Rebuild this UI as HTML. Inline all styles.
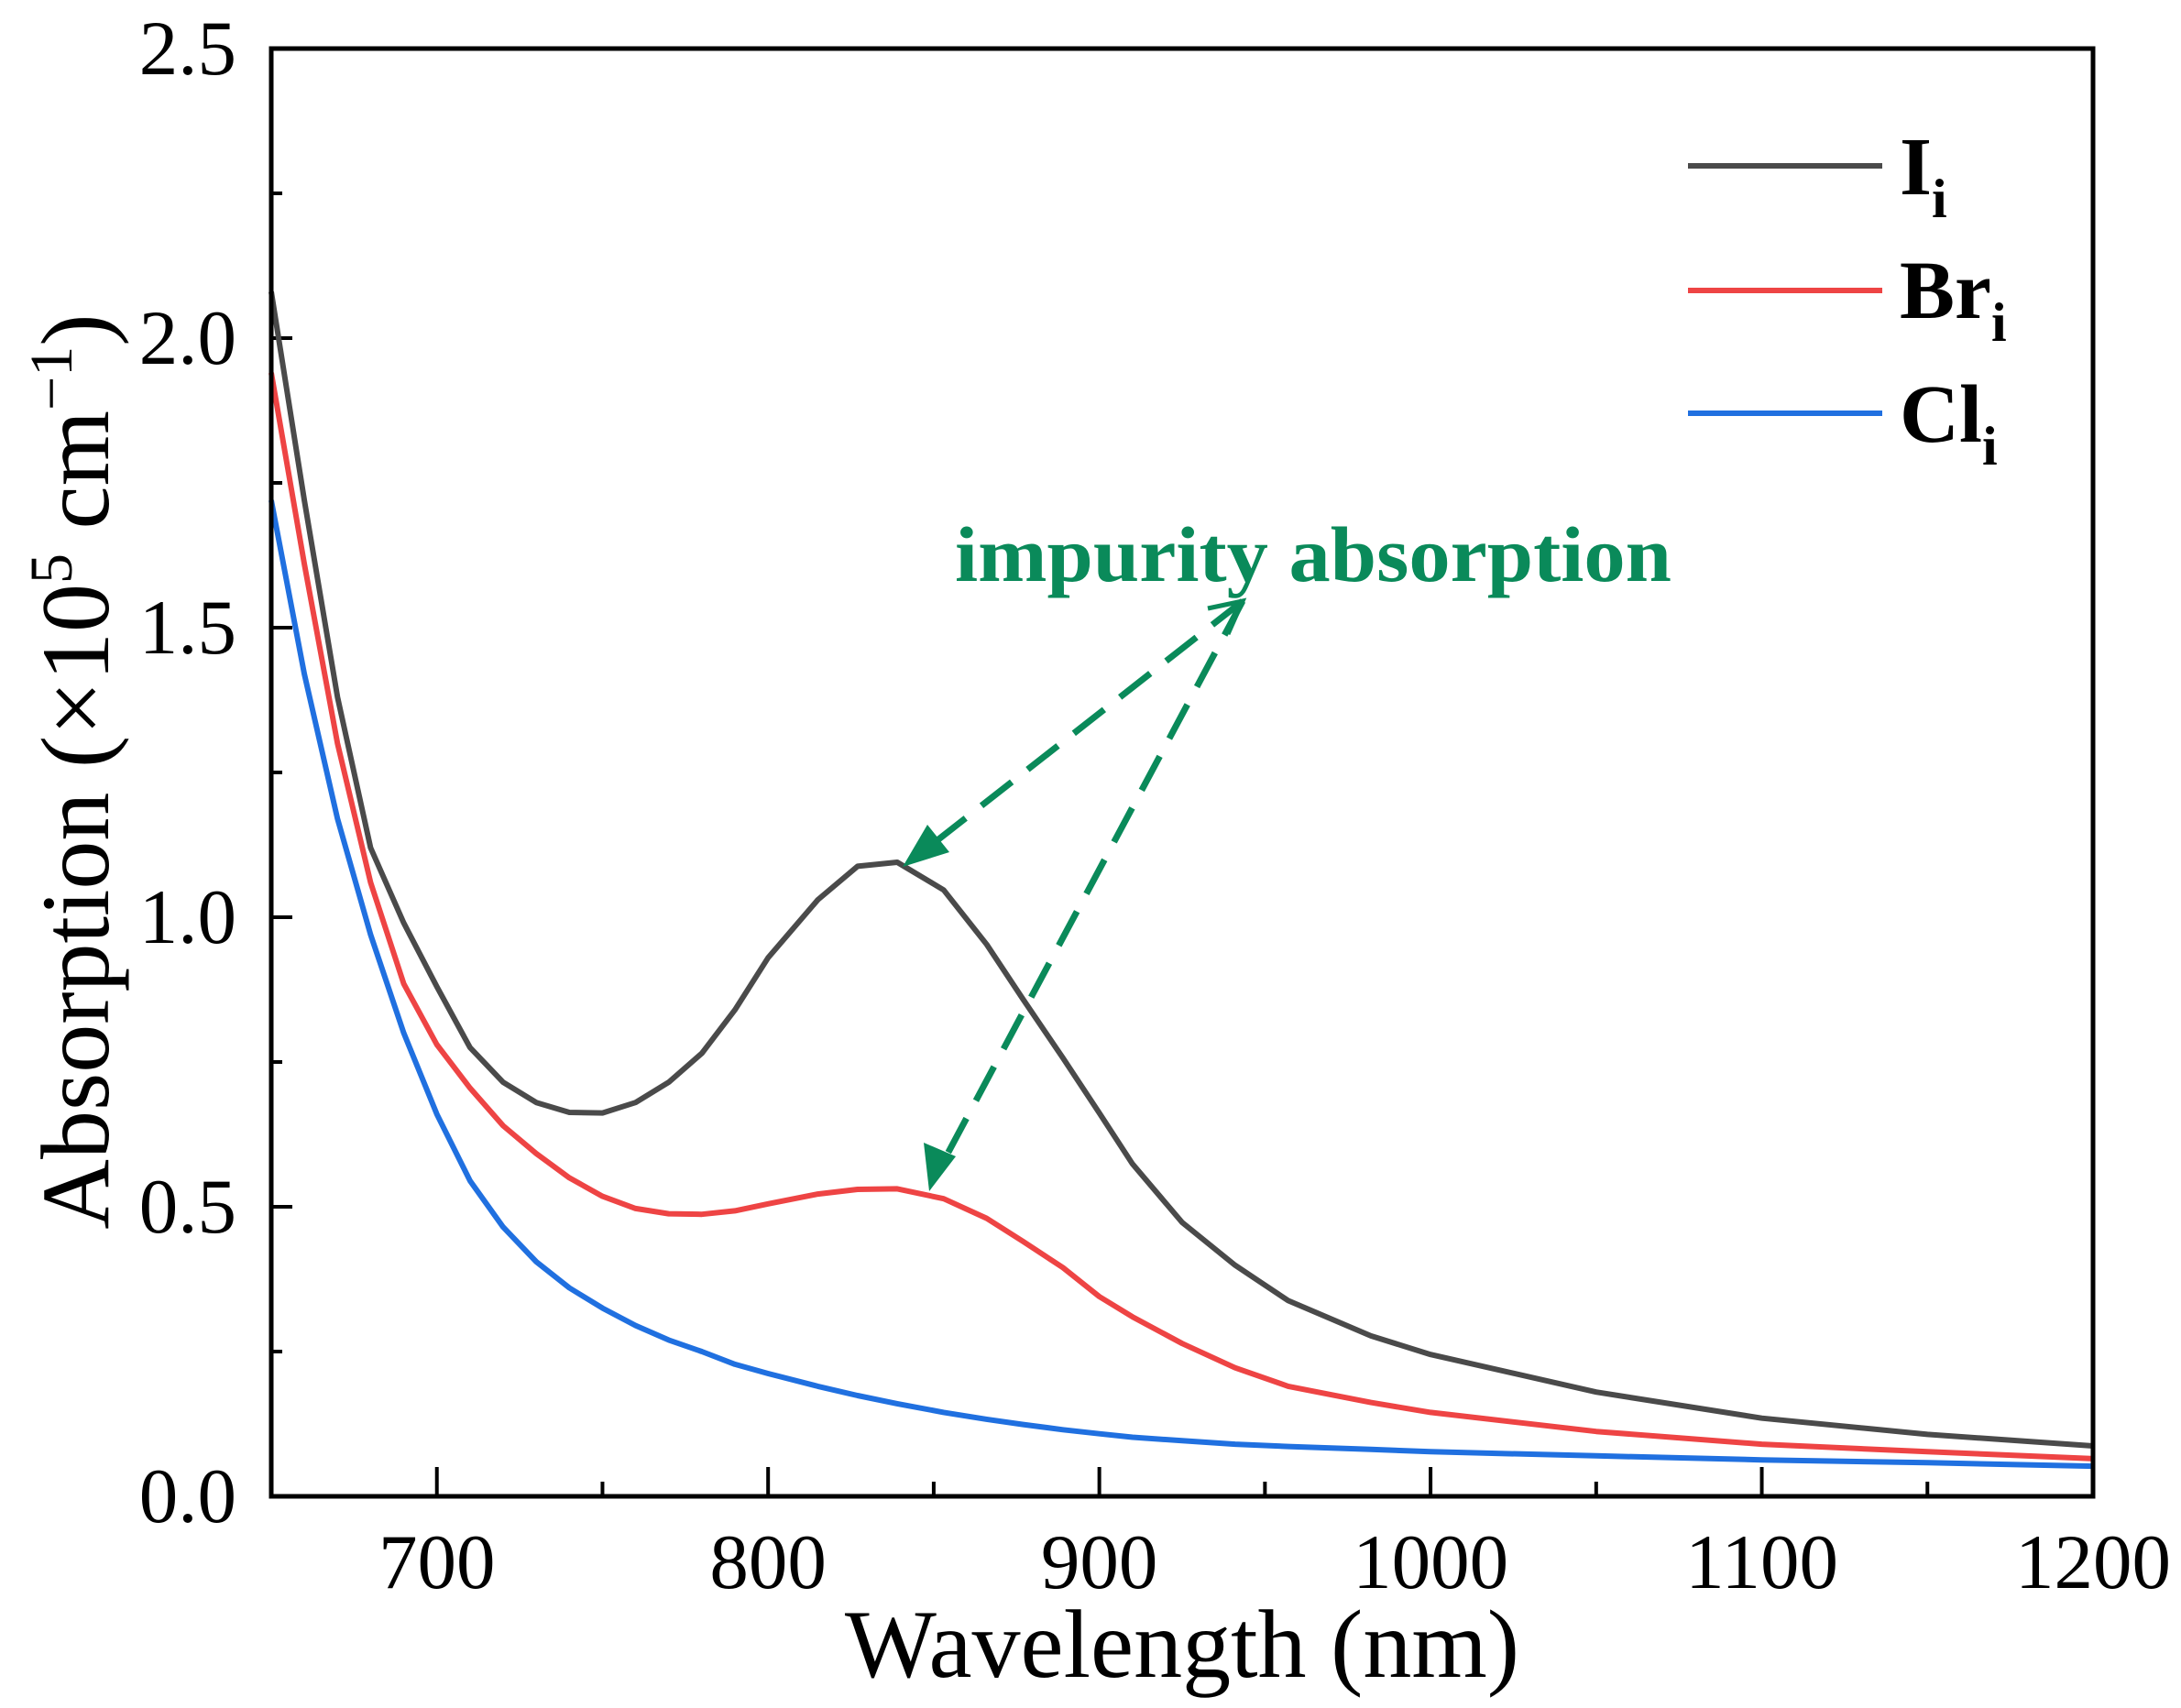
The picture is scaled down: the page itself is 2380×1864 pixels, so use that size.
<!DOCTYPE html>
<html><head><meta charset="utf-8"><style>
html,body{margin:0;padding:0;background:#fff;}
svg{display:block;font-family:"Liberation Serif",serif;}
</style></head><body>
<svg id="chart" width="2380" height="1864" viewBox="0 0 2380 1864" xmlns="http://www.w3.org/2000/svg">
<g id="axes"></g>
<g id="series"></g>
<rect x="296" y="53" width="1988" height="1580" fill="none" stroke="#000" stroke-width="5"/>
<text x="1290" y="1830" font-size="106" text-anchor="middle">Wavelength (nm)</text>
<text transform="translate(118,842) rotate(-90)" font-size="106" text-anchor="middle">Absorption (×10<tspan font-size="66" dy="-40">5</tspan><tspan dy="40"> cm</tspan><tspan font-size="66" dy="-40">−1</tspan><tspan dy="40">)</tspan></text>
<g font-weight="bold" font-size="90">
  <line x1="1842" y1="181" x2="2054" y2="181" stroke="#4a4a4a" stroke-width="6"/>
  <text x="2073" y="212">I<tspan font-size="60" dy="25">i</tspan></text>
  <line x1="1842" y1="317" x2="2054" y2="317" stroke="#ee4444" stroke-width="6"/>
  <text x="2073" y="347">Br<tspan font-size="60" dy="25">i</tspan></text>
  <line x1="1842" y1="451" x2="2054" y2="451" stroke="#2070e0" stroke-width="6"/>
  <text x="2073" y="482">Cl<tspan font-size="60" dy="25">i</tspan></text>
</g>
<g>
  <text x="1042" y="634" font-size="86" font-weight="bold" fill="#0a8a5a" textLength="782" lengthAdjust="spacingAndGlyphs">impurity absorption</text>
  <line x1="1356" y1="656" x2="1005" y2="931" stroke="#0a8a5a" stroke-width="7" stroke-dasharray="42,22"/>
  <line x1="1356" y1="656" x2="1025" y2="1276" stroke="#0a8a5a" stroke-width="7" stroke-dasharray="42,22"/>
  <polygon points="985,946 1012,900 1036,930" fill="#0a8a5a"/>
  <polygon points="1014,1300 1008,1247 1043,1262" fill="#0a8a5a"/>
  <polyline points="1318,664 1356,656 1340,692" fill="none" stroke="#0a8a5a" stroke-width="5"/>
</g>
</svg>
<script>
const wavelengths = [650,660,670,680,690,700,710,720,730,740,750,760,770,780,790,800,815,827,839,853,866,877,889,900,910,925,941,957,982,1000,1050,1100,1150,1200];
const seriesI  = [2.08,1.72,1.38,1.12,0.99,0.88,0.775,0.715,0.68,0.663,0.662,0.68,0.715,0.765,0.84,0.93,1.03,1.088,1.095,1.047,0.953,0.858,0.757,0.662,0.574,0.473,0.399,0.338,0.277,0.245,0.18,0.135,0.107,0.087];
const seriesBr = [1.94,1.61,1.30,1.06,0.885,0.78,0.705,0.64,0.592,0.55,0.518,0.497,0.488,0.487,0.493,0.505,0.522,0.53,0.531,0.514,0.48,0.44,0.395,0.345,0.31,0.264,0.222,0.19,0.162,0.145,0.112,0.09,0.077,0.065];
const seriesCl = [1.72,1.42,1.17,0.97,0.80,0.66,0.545,0.465,0.405,0.36,0.325,0.295,0.27,0.25,0.228,0.212,0.19,0.174,0.16,0.145,0.133,0.124,0.115,0.108,0.102,0.096,0.09,0.086,0.081,0.077,0.07,0.063,0.058,0.052];
const xTicks = [700,800,900,1000,1100,1200];
const xMinor = [750,850,950,1050,1150];
const yTicks = [0.0,0.5,1.0,1.5,2.0,2.5];
const yTickLabels = ["0.0","0.5","1.0","1.5","2.0","2.5"];
const yMinor = [0.25,0.75,1.25,1.75,2.25];

const X0=296,X1=2284,Y0=1633,Y1=53;
function sx(v){return X0+(v-650)/(1200-650)*(X1-X0);}
function sy(v){return Y0-(v/2.5)*(Y0-Y1);}
const NS="http://www.w3.org/2000/svg";
const axes=document.getElementById('axes');
const ser=document.getElementById('series');
function mk(tag,attrs,parent){const e=document.createElementNS(NS,tag);for(const k in attrs)e.setAttribute(k,attrs[k]);parent.appendChild(e);return e;}

xTicks.forEach(t=>{
  const l=mk('line',{x1:sx(t),x2:sx(t),y1:Y0,y2:Y0-32,stroke:'#000','stroke-width':4},axes);
  
  
  const tx=mk('text',{x:sx(t),y:1733,'font-size':85,'text-anchor':'middle'},axes);
  tx.textContent=t;
  
  
});
xMinor.forEach(t=>{
  const l=mk('line',{x1:sx(t),x2:sx(t),y1:Y0,y2:Y0-16,stroke:'#000','stroke-width':4},axes);
  
  
});
yTicks.forEach((t,i)=>{
  const l=mk('line',{x1:X0,x2:X0+23,y1:sy(t),y2:sy(t),stroke:'#000','stroke-width':4},axes);
  
  
  const tx=mk('text',{x:258,y:sy(t)+28,'font-size':85,'text-anchor':'end'},axes);
  tx.textContent=yTickLabels[i];
  
  
});
yMinor.forEach(t=>{
  const l=mk('line',{x1:X0,x2:X0+12,y1:sy(t),y2:sy(t),stroke:'#000','stroke-width':4},axes);
  
  
});
function drawSeries(vals,color,name){
  const pts=wavelengths.map((w,i)=>sx(w).toFixed(1)+','+sy(vals[i]).toFixed(1)).join(' ');
  const p=mk('polyline',{points:pts,fill:'none',stroke:color,'stroke-width':6,'stroke-linejoin':'round'},ser);
  
  
}
drawSeries(seriesCl,'#2070e0','line-cli');
drawSeries(seriesBr,'#ee4444','line-bri');
drawSeries(seriesI,'#4a4a4a','line-ii');
</script>
</body></html>
